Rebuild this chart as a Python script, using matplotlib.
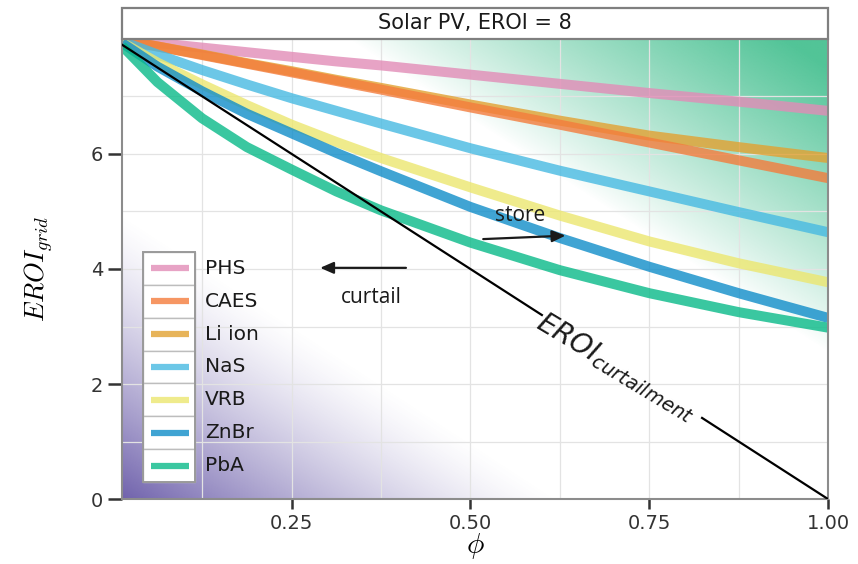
import numpy as np
import matplotlib
matplotlib.use("Agg")
import matplotlib.pyplot as plt
from matplotlib.patches import Rectangle

plt.rcParams["font.family"] = ["DejaVu Sans"]
plt.rcParams["mathtext.fontset"] = "cm"

# -----------------------------------------------------------------------------
# DATA
# -----------------------------------------------------------------------------

phi = [0.013, 0.0625, 0.125, 0.1875, 0.25, 0.3125, 0.375, 0.5, 0.625, 0.75, 0.875, 1.0]

eroi_phs  = [7.99, 7.93, 7.85, 7.77, 7.69, 7.61, 7.54, 7.38, 7.22, 7.06, 6.91, 6.75]
eroi_caes = [7.98, 7.87, 7.72, 7.57, 7.42, 7.27, 7.12, 6.81, 6.51, 6.20, 5.89, 5.58]
eroi_li   = [7.98, 7.87, 7.73, 7.58, 7.44, 7.29, 7.15, 6.86, 6.58, 6.32, 6.12, 5.93]
eroi_nas  = [7.96, 7.73, 7.46, 7.21, 6.97, 6.75, 6.53, 6.10, 5.71, 5.35, 4.99, 4.64]
eroi_vrb  = [7.94, 7.59, 7.21, 6.85, 6.51, 6.21, 5.93, 5.42, 4.93, 4.48, 4.10, 3.77]
eroi_znbr = [7.93, 7.52, 7.09, 6.70, 6.36, 6.02, 5.70, 5.08, 4.54, 4.04, 3.58, 3.15]
eroi_pba  = [7.88, 7.25, 6.62, 6.12, 5.73, 5.35, 5.02, 4.46, 3.98, 3.58, 3.25, 2.98]

tech_names  = ["PHS", "CAES", "Li ion", "NaS", "VRB", "ZnBr", "PbA"]
tech_values = [eroi_phs, eroi_caes, eroi_li, eroi_nas, eroi_vrb, eroi_znbr, eroi_pba]
tech_colors = ["#E28CB7", "#F47C3C", "#E2A131", "#47BAE2", "#ECE76F", "#108DC9", "#09BA88"]
draw_order  = [0, 2, 1, 3, 4, 5, 6]   # Li ion sits underneath CAES

# EROI of curtailment: straight line, broken where its label sits
curt_phi  = [0.013, 0.60, np.nan, 0.824, 1.0]
curt_eroi = [7.90, 3.20, np.nan, 1.41, 0.0]

X_MIN, X_MAX = 0.013, 1.0
Y_MIN, Y_MAX = 0.0, 8.0

# -----------------------------------------------------------------------------
# FIGURE
# -----------------------------------------------------------------------------

fig = plt.figure(figsize=(8.58, 5.64), dpi=100)
ax = fig.add_axes([0.1422, 0.1152, 0.8228, 0.8157])

# --- background gradients (green = store region, purple = curtail region) ---
gx, gy = np.meshgrid(np.linspace(0, 1, 300), np.linspace(0, 1, 300))
u = gx + gy

green = np.zeros((300, 300, 4))
green[..., :3] = np.array([76, 194, 148]) / 255
green[..., 3] = np.clip((u - 1.32) / 0.62, 0, 1) ** 0.9 * 0.97

purple = np.zeros((300, 300, 4))
purple[..., :3] = np.array([108, 94, 170]) / 255
purple[..., 3] = np.clip(1 - u / 0.62, 0, 1) ** 1.3 * 0.97

for img in (green, purple):
    ax.imshow(img, origin="lower", extent=(X_MIN, X_MAX, Y_MIN, Y_MAX),
              aspect="auto", interpolation="bilinear", zorder=0)

# --- storage technology curves ---
for i in draw_order:
    ax.plot(phi, tech_values[i], color=tech_colors[i], lw=7.2, alpha=0.8,
            solid_capstyle="butt", solid_joinstyle="round", zorder=2)

ax.plot(curt_phi, curt_eroi, color="black", lw=1.6, zorder=3)
ax.text(0.705, 2.30, r"$EROI_{curtailment}$", fontsize=20, rotation=-31,
        math_fontfamily="dejavusans", color="#1a1a1a",
        rotation_mode="anchor", ha="center", va="center", zorder=4)

# --- store / curtail arrows ---
arrow_kw = dict(arrowstyle="-|>,head_length=0.8,head_width=0.35",
                color="#1a1a1a", lw=1.6, shrinkA=0, shrinkB=0)
ax.annotate("", xy=(0.633, 4.58), xytext=(0.518, 4.52), arrowprops=arrow_kw, zorder=4)
ax.text(0.57, 4.93, "store", fontsize=15, family=["Open Sans", "DejaVu Sans"],
        color="#1a1a1a", ha="center", va="center", zorder=4)
ax.annotate("", xy=(0.290, 4.02), xytext=(0.410, 4.02), arrowprops=arrow_kw, zorder=4)
ax.text(0.362, 3.50, "curtail", fontsize=15, family=["Open Sans", "DejaVu Sans"],
        color="#1a1a1a", ha="center", va="center", zorder=4)

# --- axes styling ---
ax.set_xlim(X_MIN, X_MAX)
ax.set_ylim(Y_MIN, Y_MAX)
ax.set_xticks([0.25, 0.50, 0.75, 1.00])
ax.set_xticklabels(["0.25", "0.50", "0.75", "1.00"])
ax.set_yticks([0, 2, 4, 6])
ax.set_xticks(np.arange(0.125, 1.0, 0.25), minor=True)
ax.set_yticks([1, 3, 5, 7], minor=True)
ax.set_axisbelow(True)
ax.grid(True, which="both", color="#e3e3e3", lw=0.9)
ax.tick_params(which="major", length=7, width=1.8, color="#333333",
               labelsize=14, labelcolor="#333333")
ax.tick_params(which="minor", length=0)
ax.tick_params(axis="y", length=10)

for side in ["left", "bottom", "right"]:
    ax.spines[side].set_color("#8c8c8c")
    ax.spines[side].set_linewidth(1.5)
ax.spines["top"].set_visible(False)

ax.set_xlabel(r"$\phi$", fontsize=21, labelpad=-1)
ax.set_ylabel(r"$EROI_{grid}$", fontsize=19, labelpad=26)

# --- facet strip ---
strip_h = 31 / 460
ax.add_patch(Rectangle((0, 1), 1, strip_h, transform=ax.transAxes, clip_on=False,
                       facecolor="white", edgecolor="#7f7f7f", lw=1.6, zorder=5))
ax.text(0.5, 1 + strip_h / 2, "Solar PV, EROI = 8", transform=ax.transAxes,
        fontsize=15, color="#1a1a1a", ha="center", va="center", zorder=6)

# --- legend (key column boxed, labels beside it) ---
key_x0, key_x1 = 0.0297, 0.103
key_top, key_bot = 0.537, 0.037
cell_h = (key_top - key_bot) / len(tech_names)
for k, (name, col) in enumerate(zip(tech_names, tech_colors)):
    y0 = key_top - (k + 1) * cell_h
    ax.add_patch(Rectangle((key_x0, y0), key_x1 - key_x0, cell_h, transform=ax.transAxes,
                           facecolor="white", edgecolor="#bdbdbd", lw=1.0, zorder=6))
    yc = y0 + cell_h / 2
    ax.plot([key_x0 + 0.011, key_x1 - 0.008], [yc, yc], transform=ax.transAxes,
            color=col, lw=4.5, alpha=0.8, solid_capstyle="butt", zorder=7)
    ax.text(0.1176, yc, name, transform=ax.transAxes, fontsize=14.5,
            color="#1a1a1a", ha="left", va="center", zorder=7)
ax.add_patch(Rectangle((key_x0, key_bot), key_x1 - key_x0, key_top - key_bot,
                       transform=ax.transAxes, facecolor="none", edgecolor="#9a9a9a",
                       lw=1.4, zorder=7))

fig.savefig("out.png", dpi=100)
